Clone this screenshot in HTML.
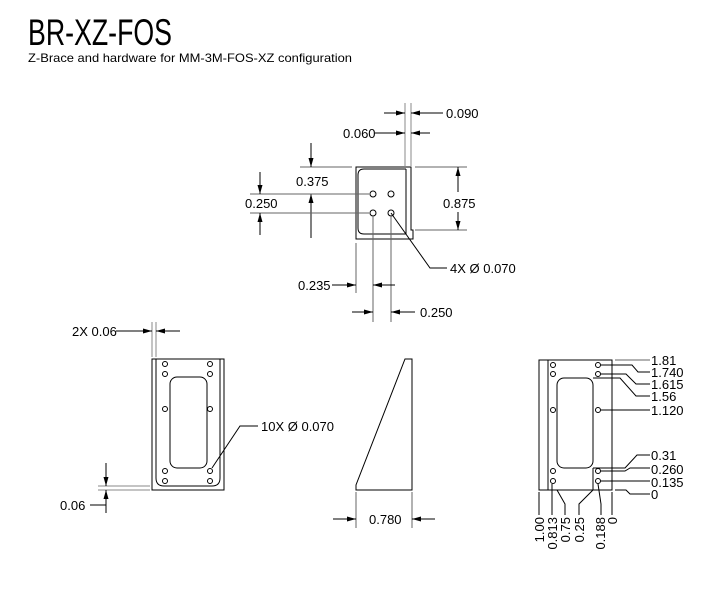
<!DOCTYPE html>
<html><head><meta charset="utf-8"><style>
html,body{margin:0;padding:0;background:#fff;width:707px;height:600px;overflow:hidden}
svg{display:block}
text{font-family:"Liberation Sans Narrow","Liberation Sans",sans-serif;font-size:13px;fill:#000}
</style></head><body>
<svg width="707" height="600" viewBox="0 0 707 600" xmlns="http://www.w3.org/2000/svg">
<defs>
<marker id="a" markerWidth="9" markerHeight="6" refX="9" refY="3" orient="auto" markerUnits="userSpaceOnUse"><path d="M0,0.5 L9,3 L0,5.5z" fill="#000"/></marker>
</defs>
<text x="28" y="45" style="font-family:'Liberation Sans',sans-serif;font-size:37px" textLength="144" lengthAdjust="spacingAndGlyphs">BR-XZ-FOS</text>
<text x="28" y="62" style="font-family:'Liberation Sans',sans-serif;font-size:12px" textLength="324" lengthAdjust="spacingAndGlyphs">Z-Brace and hardware for MM-3M-FOS-XZ configuration</text>

<g fill="none" stroke="#000" stroke-width="1">
<!-- top view -->
<path d="M356,167 H411 V230 H413 V239 H356 Z"/>
<path d="M405,103 V167 M411,103 V167" stroke="#888"/>
<path d="M406,169 V234 H364 Q358,234 358,228 V175 Q358,169 364,169 H406"/>
<circle cx="373" cy="194" r="3"/><circle cx="391" cy="194" r="3"/>
<circle cx="373" cy="213" r="3"/><circle cx="391" cy="213" r="3"/>
<path d="M415,167 H467 M415,230 H467" stroke="#666"/>
<path d="M458,192 V167" marker-end="url(#a)"/><path d="M458,212 V230" marker-end="url(#a)"/>
<path d="M300,167 H352" stroke="#666"/>
<path d="M311,143 V167" marker-end="url(#a)"/><path d="M311,238 V194" marker-end="url(#a)"/>
<path d="M250,194 H369 M250,213 H369" stroke="#666"/>
<path d="M260,172 V194" marker-end="url(#a)"/><path d="M260,235 V213" marker-end="url(#a)"/>
<path d="M356,243 V293 M373,216 V322 M391,216 V322" stroke="#666"/>
<path d="M332,285 H356" marker-end="url(#a)"/><path d="M395,285 H373" marker-end="url(#a)"/>
<path d="M352,312 H373" marker-end="url(#a)"/><path d="M415,312 H391" marker-end="url(#a)"/>
<path d="M384,113 H405" marker-end="url(#a)"/><path d="M443,113 H411" marker-end="url(#a)"/>
<path d="M375,133 H405" marker-end="url(#a)"/><path d="M430,133 H411" marker-end="url(#a)"/>
<path d="M447,268 H430 L391,213"/>
<!-- left view -->
<rect x="152" y="359" width="72" height="131"/>
<path d="M156,359 V478 Q156,486 164,486 H212 Q220,486 220,478 V359"/>
<rect x="170" y="377" width="37" height="91" rx="7"/>
<circle cx="165" cy="364" r="2.5"/><circle cx="165" cy="374" r="2.5"/><circle cx="165" cy="409" r="2.5"/><circle cx="165" cy="471" r="2.5"/><circle cx="165" cy="481" r="2.5"/>
<circle cx="210" cy="364" r="2.5"/><circle cx="210" cy="374" r="2.5"/><circle cx="210" cy="409" r="2.5"/><circle cx="210" cy="471" r="2.5"/><circle cx="210" cy="481" r="2.5"/>
<path d="M152,322 V357 M156,322 V357" stroke="#888"/>
<path d="M116,331 H152" marker-end="url(#a)"/><path d="M180,331 H156" marker-end="url(#a)"/>
<path d="M98,486 H150 M98,490 H150" stroke="#888"/>
<path d="M106,463 V486" marker-end="url(#a)"/><path d="M106,513 V490" marker-end="url(#a)"/>
<path d="M90,505 H106"/>
<path d="M258,426 H240 L212,468"/>
<!-- triangle -->
<path d="M356,490 V485 L405,359 H412 V490 Z"/>
<path d="M356,492 V528 M412,492 V528" stroke="#666"/>
<path d="M333,519 H356" marker-end="url(#a)"/><path d="M435,519 H412" marker-end="url(#a)"/>
<!-- right view -->
<rect x="539" y="360" width="73" height="130"/>
<path d="M548,360 V490 M593,468 V490"/>
<rect x="557" y="378" width="36" height="90" rx="7"/>
<circle cx="553" cy="365" r="2.5"/><circle cx="553" cy="374" r="2.5"/><circle cx="553" cy="410" r="2.5"/><circle cx="553" cy="471" r="2.5"/><circle cx="553" cy="481" r="2.5"/>
<circle cx="598" cy="365" r="2.5"/><circle cx="598" cy="374" r="2.5"/><circle cx="598" cy="410" r="2.5"/><circle cx="598" cy="471" r="2.5"/><circle cx="598" cy="481" r="2.5"/>
<path d="M615,360 H650" stroke="#666"/>
<path d="M601,365 H632 L638,372 H650"/>
<path d="M601,374 H626 L636,384 H650"/>
<path d="M593,378 H620 L636,396 H650"/>
<path d="M601,410 H650"/>
<path d="M593,468 H625 L637,455 H650"/>
<path d="M601,471 H625 L630,468 H650"/>
<path d="M601,481 H650"/>
<path d="M615,490 H626 L630,494 H650"/>
<path d="M539,492 V515 M552,484 V515 M557,490 L565,504 V515 M593,490 L579,504 V515 M598,484 L601,504 V515 M612,492 V515"/>
</g>

<text x="446" y="118">0.090</text>
<text x="343" y="138">0.060</text>
<text x="296" y="186">0.375</text>
<text x="245" y="208">0.250</text>
<text x="443" y="208">0.875</text>
<text x="450" y="273">4X Ø 0.070</text>
<text x="298" y="290">0.235</text>
<text x="420" y="317">0.250</text>
<text x="72" y="336">2X 0.06</text>
<text x="261" y="431">10X Ø 0.070</text>
<text x="60" y="510">0.06</text>
<text x="369" y="524">0.780</text>
<text x="651" y="365">1.81</text>
<text x="651" y="377">1.740</text>
<text x="651" y="389">1.615</text>
<text x="651" y="401">1.56</text>
<text x="651" y="415">1.120</text>
<text x="651" y="460">0.31</text>
<text x="651" y="474">0.260</text>
<text x="651" y="487">0.135</text>
<text x="651" y="499">0</text>
<text transform="translate(544,517) rotate(-90)" text-anchor="end">1.00</text>
<text transform="translate(557,517) rotate(-90)" text-anchor="end">0.813</text>
<text transform="translate(570,517) rotate(-90)" text-anchor="end">0.75</text>
<text transform="translate(584,517) rotate(-90)" text-anchor="end">0.25</text>
<text transform="translate(605,517) rotate(-90)" text-anchor="end">0.188</text>
<text transform="translate(617,517) rotate(-90)" text-anchor="end">0</text>
</svg>
</body></html>
